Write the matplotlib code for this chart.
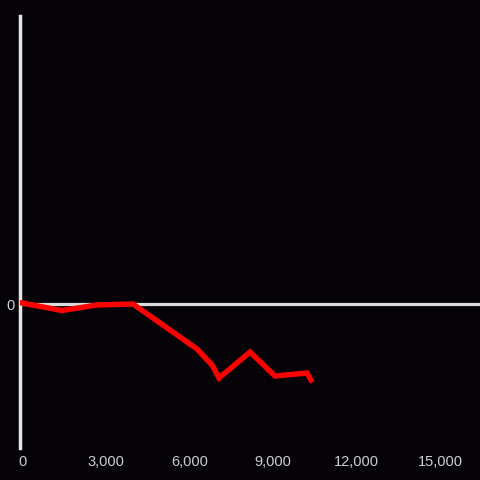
import matplotlib
matplotlib.use("Agg")
import matplotlib.pyplot as plt
from matplotlib.ticker import FuncFormatter

x_vals = [0, 1435, 2691, 3983, 6280, 6818, 7069, 8182, 9079, 10227, 10371]
y_vals = [100, -650, -100, 0, -4500, -6100, -7400, -4800, -7200, -6900, -7600]
x_ticks = [0, 3000, 6000, 9000, 12000, 15000]
y_ticks = [0]

bg = "#050307"
fig = plt.figure(figsize=(4.8, 4.8), dpi=100, facecolor=bg)
ax = fig.add_axes([20/480, 32/480, 460/480, 432/480], facecolor=bg)

ax.axhline(0, color="#dcdcdc", lw=2.3, zorder=1)
ax.plot(x_vals, y_vals, color="#ff0000", lw=3.9, solid_joinstyle="miter", zorder=3)

ax.set_xlim(-72, 16435)
ax.set_ylim(-14400, 28800)

for s in ["top", "right", "bottom"]:
    ax.spines[s].set_visible(False)
ax.spines["left"].set_color("#e6e6e6")
ax.spines["left"].set_linewidth(2.5)

ax.set_xticks(x_ticks)
ax.xaxis.set_major_formatter(FuncFormatter(lambda v, p: f"{int(v):,}"))
ax.set_yticks(y_ticks)
ax.tick_params(axis="both", length=0, colors="#cfcfcf", labelsize=10.5)
ax.tick_params(axis="x", pad=5)
ax.tick_params(axis="y", pad=4)
for lab in ax.get_xticklabels() + ax.get_yticklabels():
    lab.set_fontfamily("Liberation Sans")

fig.savefig("out.png", dpi=100, facecolor=bg)
